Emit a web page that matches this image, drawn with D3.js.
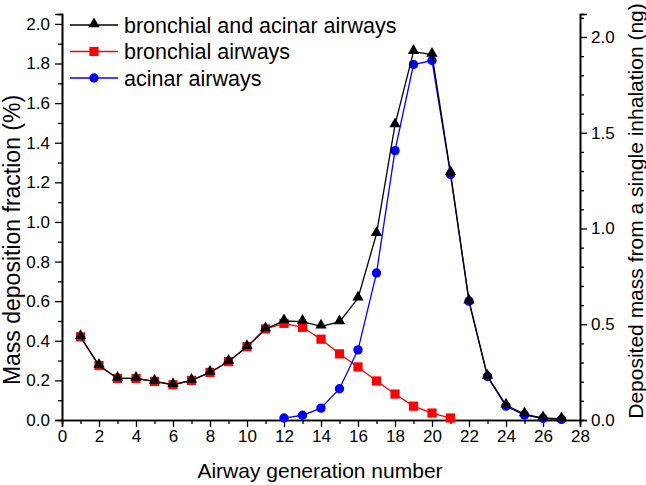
<!DOCTYPE html>
<html>
<head>
<meta charset="utf-8">
<script src="https://cdn.jsdelivr.net/npm/d3@7"></script>
<style>
  body { margin: 0; background: #fff; }
  text { font-family: "Liberation Sans", Arial, sans-serif; fill: #000; }
</style>
</head>
<body>
<div id="chart"></div>
<script>
// airway generations and deposition fractions (%)
var totalGen = [1,2,3,4,5,6,7,8,9,10,11,12,13,14,15,16,17,18,19,20,21,22,23,24,25,26,27];
var totalVal = [0.42,0.275,0.21,0.21,0.195,0.178,0.2,0.24,0.295,0.37,0.46,0.50,0.497,0.473,0.495,0.615,0.94,1.49,1.86,1.845,1.248,0.60,0.22,0.075,0.03,0.01,0.005];

var bronchGen = [1,2,3,4,5,6,7,8,9,10,11,12,13,14,15,16,17,18,19,20,21];
var bronchVal = [0.42,0.275,0.21,0.21,0.195,0.178,0.2,0.24,0.295,0.37,0.46,0.488,0.468,0.408,0.334,0.268,0.197,0.131,0.07,0.035,0.01];

var acinGen = [12,13,14,15,16,17,18,19,20,21,22,23,24,25,26,27];
var acinVal = [0.01,0.024,0.06,0.158,0.354,0.742,1.36,1.795,1.815,1.24,0.60,0.22,0.07,0.025,0.008,0.003];

var legendLabels = ["bronchial and acinar airways", "bronchial airways", "acinar airways"];

var W = 646, H = 485;
var margin = { top: 14, right: 66, bottom: 65, left: 62 };
var width = W - margin.left - margin.right,
  height = H - margin.top - margin.bottom;

var svg = d3.select("#chart").append("svg")
  .attr("width", W).attr("height", H);

var g = svg.append("g")
  .attr("transform", "translate(" + margin.left + "," + margin.top + ")");

var x = d3.scaleLinear().domain([0, 28]).range([0, width]);
var y = d3.scaleLinear().domain([0, 2.05]).range([height, 0]);
var y2 = d3.scaleLinear().domain([0, 2.12]).range([height, 0]);

// bottom axis: major + minor ticks
g.append("g").attr("transform", "translate(0," + height + ")")
  .call(d3.axisBottom(x).tickValues(d3.range(1, 28, 2)).tickSize(4).tickFormat(""));
g.append("g").attr("transform", "translate(0," + height + ")")
  .call(d3.axisBottom(x).tickValues(d3.range(0, 29, 2)).tickSize(7).tickPadding(3).tickFormat(d3.format("d")));

// left axis
g.append("g").call(d3.axisLeft(y).tickValues(d3.range(0.1, 2.05, 0.2)).tickSize(4).tickFormat(""));
g.append("g").call(d3.axisLeft(y).tickValues(d3.range(0, 2.01, 0.2)).tickSize(7).tickPadding(5).tickFormat(d3.format(".1f")));

// right axis
g.append("g").attr("transform", "translate(" + width + ",0)")
  .call(d3.axisRight(y2).tickValues(d3.range(0.1, 2.12, 0.1).filter(function (v) { return Math.abs(v * 2 - Math.round(v * 2)) > 0.01; })).tickSize(4).tickFormat(""));
g.append("g").attr("transform", "translate(" + width + ",0)")
  .call(d3.axisRight(y2).tickValues([0, 0.5, 1.0, 1.5, 2.0]).tickSize(7).tickPadding(4).tickFormat(d3.format(".1f")));

g.selectAll(".domain").attr("stroke", "#000").attr("stroke-width", 1.6);
g.selectAll(".tick line").attr("stroke", "#000").attr("stroke-width", 1.3);
g.selectAll(".tick text").style("font-size", "17px").style("font-family", "Liberation Sans, Arial, sans-serif");

// axis titles
svg.append("text")
  .attr("x", 320).attr("y", 478)
  .attr("text-anchor", "middle").style("font-size", "21px")
  .text("Airway generation number");
svg.append("text")
  .attr("transform", "translate(20,240) rotate(-90)")
  .attr("text-anchor", "middle").style("font-size", "23px")
  .text("Mass deposition fraction (%)");
svg.append("text")
  .attr("transform", "translate(643,211) rotate(-90)")
  .attr("text-anchor", "middle").style("font-size", "21px")
  .text("Deposited mass from a single inhalation (ng)");

var line = d3.line()
  .x(function (d) { return x(d[0]); })
  .y(function (d) { return y(d[1]); });

function zipData(gens, vals) {
  return gens.map(function (gv, i) { return [gv, vals[i]]; });
}

var tri = d3.symbol().type(d3.symbolTriangle).size(55);

function drawSeries(data, colour, kind) {
  g.append("path").datum(data)
    .attr("d", line).attr("fill", "none")
    .attr("stroke", colour).attr("stroke-width", 1.3);
  var pts = g.append("g");
  if (kind === "square") {
    pts.selectAll("rect").data(data).enter().append("rect")
      .attr("x", function (d) { return x(d[0]) - 4.6; })
      .attr("y", function (d) { return y(d[1]) - 4.6; })
      .attr("width", 9.2).attr("height", 9.2)
      .attr("fill", colour);
  } else if (kind === "circle") {
    pts.selectAll("circle").data(data).enter().append("circle")
      .attr("cx", function (d) { return x(d[0]); })
      .attr("cy", function (d) { return y(d[1]); })
      .attr("r", 4.7).attr("fill", colour);
  } else {
    pts.selectAll("path").data(data).enter().append("path")
      .attr("d", tri)
      .attr("transform", function (d) { return "translate(" + x(d[0]) + "," + (y(d[1]) - 1) + ")"; })
      .attr("fill", colour);
  }
}

drawSeries(zipData(bronchGen, bronchVal), "#ff0000", "square");
drawSeries(zipData(acinGen, acinVal), "#0000ff", "circle");
drawSeries(zipData(totalGen, totalVal), "#000000", "triangle");

// legend
var legend = svg.append("g");
var kinds = ["triangle", "square", "circle"];
var colours = ["#000000", "#ff0000", "#0000ff"];
legendLabels.forEach(function (lab, i) {
  var ly = 25 + i * 26.5;
  legend.append("line").attr("x1", 70).attr("x2", 118).attr("y1", ly).attr("y2", ly)
    .attr("stroke", colours[i]).attr("stroke-width", 1.3);
  if (kinds[i] === "triangle") {
    legend.append("path").attr("d", tri).attr("transform", "translate(94," + (ly - 1) + ")").attr("fill", colours[i]);
  } else if (kinds[i] === "square") {
    legend.append("rect").attr("x", 89.4).attr("y", ly - 4.6).attr("width", 9.2).attr("height", 9.2).attr("fill", colours[i]);
  } else {
    legend.append("circle").attr("cx", 94).attr("cy", ly).attr("r", 4.7).attr("fill", colours[i]);
  }
  legend.append("text").attr("x", 124).attr("y", ly + 7.5)
    .style("font-size", "21.5px").text(lab);
});
</script>
</body>
</html>
